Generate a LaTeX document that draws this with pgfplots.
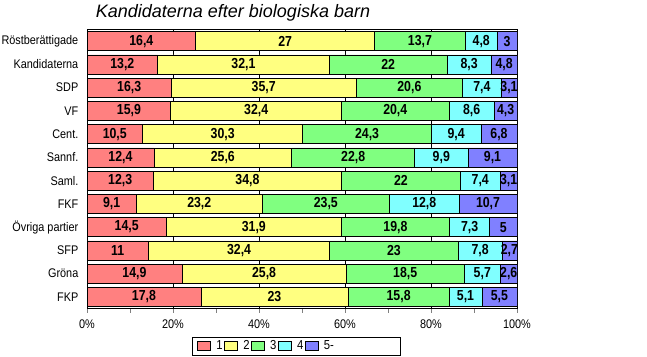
\documentclass[border=0pt]{standalone}
\usepackage{fontspec}
\setmainfont{Liberation Sans}
\newfontfamily\catfont[FakeStretch=0.87]{Liberation Sans}
\newfontfamily\numfont[FakeStretch=0.85]{Liberation Sans}
\usepackage{pgfplots}
\usepackage{pgfplotstable}
\pgfplotsset{compat=1.18}
\definecolor{c1}{HTML}{FF8080}
\definecolor{c2}{HTML}{FFFF80}
\definecolor{c3}{HTML}{80FF80}
\definecolor{c4}{HTML}{80FFFF}
\definecolor{c5}{HTML}{8080FF}

\pgfplotstableread[col sep=comma]{
idx,name,a,b,c,d,e
0,Röstberättigade,16.4,27,13.7,4.8,3
1,Kandidaterna,13.2,32.1,22,8.3,4.8
2,SDP,16.3,35.7,20.6,7.4,3.1
3,VF,15.9,32.4,20.4,8.6,4.3
4,Cent.,10.5,30.3,24.3,9.4,6.8
5,Sannf.,12.4,25.6,22.8,9.9,9.1
6,Saml.,12.3,34.8,22,7.4,3.1
7,FKF,9.1,23.2,23.5,12.8,10.7
8,Övriga partier,14.5,31.9,19.8,7.3,5
9,SFP,11,32.4,23,7.8,2.7
10,Gröna,14.9,25.8,18.5,5.7,2.6
11,FKP,17.8,23,15.8,5.1,5.5
}\data
\pgfplotstablecreatecol[create col/expr={\thisrow{a}+\thisrow{b}+\thisrow{c}+\thisrow{d}+\thisrow{e}}]{tot}\data

\pgfplotsset{
  common/.style={
    at={(87pt,47.5pt)}, anchor=south west,
    scale only axis, width=430pt, height=279pt,
    xmin=0, xmax=100, ymin=-0.5, ymax=11.5, y dir=reverse,
  },
  lbl/.style={draw=none, mark=none, nodes near coords, point meta=explicit,
    every node near coord/.append style={anchor=center, inner sep=0pt,
      font=\numfont\bfseries\fontsize{14.5}{14.5}\selectfont}},
}

\begin{document}
\begin{tikzpicture}
\path[use as bounding box] (0,0) rectangle (647pt,356pt);
\begin{axis}[common,
  xbar stacked, bar width=19pt,
  /pgf/number format/assume math mode=true,
  xtick={0,20,...,100}, minor xtick={10,30,...,90},
  xtick pos=bottom, tick align=outside,
  major tick length=4pt, minor tick length=4pt,
  xticklabel={\pgfmathprintnumber{\tick}\%},
  xticklabel style={font=\catfont\fontsize{12.5}{12.5}\selectfont, yshift=-4pt},
  ytick={0,...,11}, yticklabels from table={\data}{name},
  ytick style={draw=none},
  yticklabel style={font=\catfont\fontsize{12.5}{12.5}\selectfont, inner sep=0pt, xshift=-4.5pt},
  xmajorgrids, major grid style={black, line width=0.4pt},
  axis line style={line width=0.8pt},
  legend columns=5,
  legend style={draw=none, at={(0.249,0)}, anchor=west, yshift=-37.5pt,
    nodes={font=\catfont\fontsize{13}{13}\selectfont, inner sep=1.5pt},
    /tikz/every even column/.append style={column sep=0pt},
    /tikz/every odd column/.append style={column sep=4pt}},
  legend image code/.code={\draw[#1,draw=black] (0pt,-4.5pt) rectangle (13pt,4.5pt);},
]
\addplot[fill=c1, draw=black, line width=0.6pt] table[y=idx, x expr=100*\thisrow{a}/\thisrow{tot}] {\data};
\addplot[fill=c2, draw=black, line width=0.6pt] table[y=idx, x expr=100*\thisrow{b}/\thisrow{tot}] {\data};
\addplot[fill=c3, draw=black, line width=0.6pt] table[y=idx, x expr=100*\thisrow{c}/\thisrow{tot}] {\data};
\addplot[fill=c4, draw=black, line width=0.6pt] table[y=idx, x expr=100*\thisrow{d}/\thisrow{tot}] {\data};
\addplot[fill=c5, draw=black, line width=0.6pt] table[y=idx, x expr=100*\thisrow{e}/\thisrow{tot}] {\data};
\legend{1,2,3,4,5-}
\end{axis}
\begin{axis}[common, hide axis, /pgf/number format/assume math mode=true, /pgf/number format/use comma]
\addplot[lbl] table[y=idx, x expr=50*\thisrow{a}/\thisrow{tot}, meta=a] {\data};
\addplot[lbl] table[y=idx, x expr=100*(\thisrow{a}+0.5*\thisrow{b})/\thisrow{tot}, meta=b] {\data};
\addplot[lbl] table[y=idx, x expr=100*(\thisrow{a}+\thisrow{b}+0.5*\thisrow{c})/\thisrow{tot}, meta=c] {\data};
\addplot[lbl] table[y=idx, x expr=100*(\thisrow{a}+\thisrow{b}+\thisrow{c}+0.5*\thisrow{d})/\thisrow{tot}, meta=d] {\data};
\addplot[lbl] table[y=idx, x expr=100*(\thisrow{a}+\thisrow{b}+\thisrow{c}+\thisrow{d}+0.5*\thisrow{e})/\thisrow{tot}, meta=e] {\data};
\end{axis}
\draw[line width=0.8pt] (192pt,1pt) rectangle (400pt,19pt);
\node[font=\itshape\fontsize{18}{18}\selectfont] at (233pt,343.5pt) {Kandidaterna efter biologiska barn};
\end{tikzpicture}
\end{document}
